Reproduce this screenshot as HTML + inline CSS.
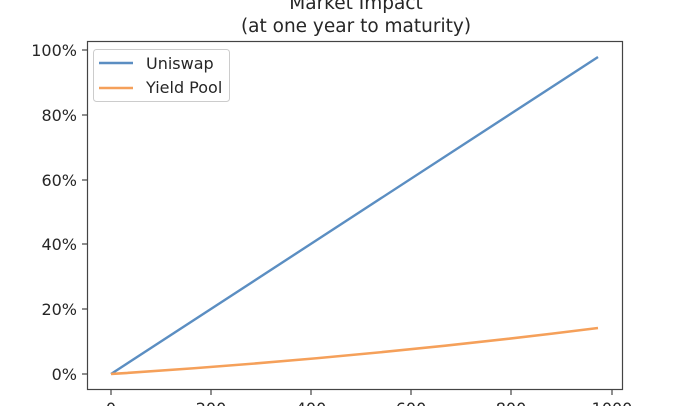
<!DOCTYPE html>
<html><head><style>body{margin:0;background:#fff}svg{display:block}text{font-family:"DejaVu Sans","Liberation Sans",sans-serif;fill:#262626}</style></head>
<body>
<svg width="696" height="406" viewBox="0 0 696 406">
<text x="356" y="9" font-size="18.5" text-anchor="middle">Market Impact</text>
<text x="356" y="32" font-size="18.5" text-anchor="middle">(at one year to maturity)</text>
<rect x="87.5" y="41.5" width="535" height="348" fill="none" stroke="#444" stroke-width="1.2"/>
<g stroke="#444" stroke-width="1.2">
<line x1="82" y1="374" x2="87" y2="374"/><line x1="82" y1="309" x2="87" y2="309"/><line x1="82" y1="244" x2="87" y2="244"/><line x1="82" y1="180" x2="87" y2="180"/><line x1="82" y1="115" x2="87" y2="115"/><line x1="82" y1="50" x2="87" y2="50"/>
<line x1="111" y1="390" x2="111" y2="395"/><line x1="211" y1="390" x2="211" y2="395"/><line x1="311" y1="390" x2="311" y2="395"/><line x1="411" y1="390" x2="411" y2="395"/><line x1="511" y1="390" x2="511" y2="395"/><line x1="612" y1="390" x2="612" y2="395"/>
</g>
<g font-size="16" text-anchor="end">
<text x="77" y="380">0%</text><text x="77" y="315">20%</text><text x="77" y="250">40%</text><text x="77" y="186">60%</text><text x="77" y="121">80%</text><text x="77" y="56">100%</text>
</g>
<g font-size="16" text-anchor="middle">
<text x="111" y="414">0</text><text x="211" y="414">200</text><text x="311" y="414">400</text><text x="411" y="414">600</text><text x="511" y="414">800</text><text x="612" y="414">1000</text>
</g>
<line x1="111" y1="374" x2="598" y2="57" stroke="#5b8ec2" stroke-width="2.4"/>
<path d="M111,374 Q360,358 598,328" fill="none" stroke="#f5a05a" stroke-width="2.6"/>
<rect x="93.5" y="49.5" width="136" height="52" rx="3" fill="#fff" stroke="#ccc"/>
<line x1="99" y1="63" x2="133" y2="63" stroke="#5b8ec2" stroke-width="2.4"/>
<line x1="99" y1="88" x2="133" y2="88" stroke="#f5a05a" stroke-width="2.4"/>
<text x="146" y="69" font-size="16">Uniswap</text>
<text x="146" y="93" font-size="16">Yield Pool</text>
</svg>
</body></html>
